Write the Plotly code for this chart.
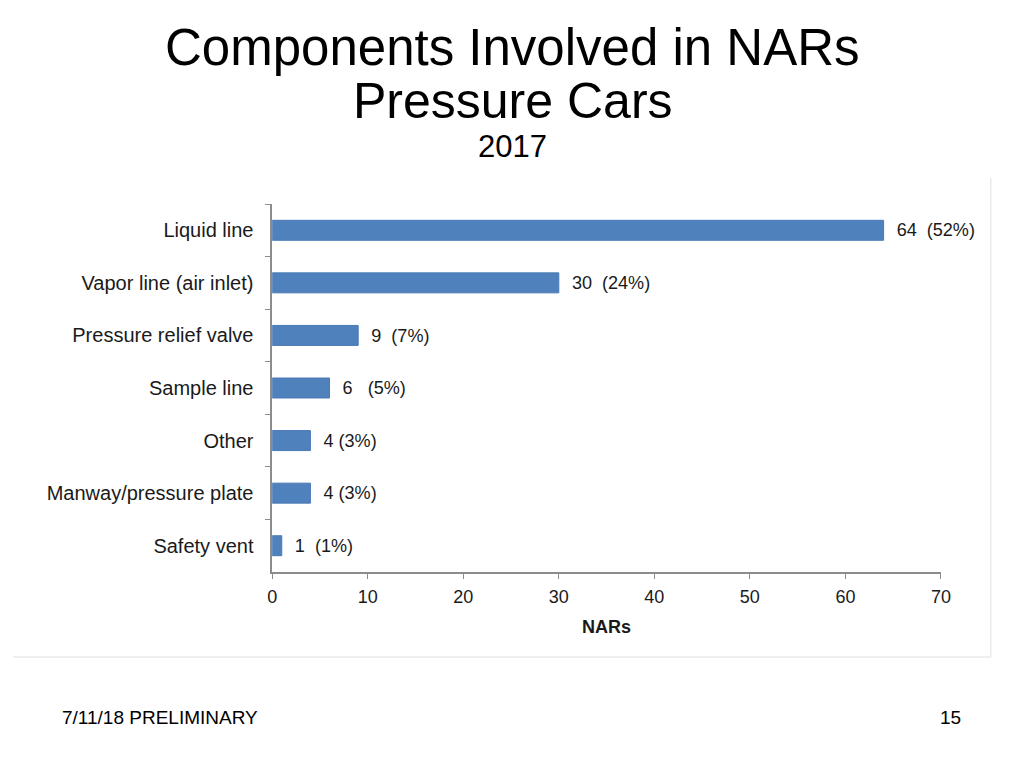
import plotly.graph_objects as go

categories = ["Liquid line", "Vapor line (air inlet)", "Pressure relief valve", "Sample line",
              "Other", "Manway/pressure plate", "Safety vent"]
values = [64, 30, 9, 6, 4, 4, 1]
percents = ["52%", "24%", "7%", "5%", "3%", "3%", "1%"]
label_gaps = [2, 2, 2, 3, 1, 1, 2]
NB = "\u00a0"
labels = [NB * 2 + f"{v}" + NB * g + f"({p})" for v, p, g in zip(values, percents, label_gaps)]
x_ticks = [0, 10, 20, 30, 40, 50, 60, 70]

# page offsets observed in the capture: x_screen = 11.3 + 0.987*x_fig, y_screen = 8 + y_fig
W, H = 1008, 752
XA, XS, YA = 11.3, 0.987, 8


def px(x):
    return ((x - XA) / XS) / W


def py(y):
    return 1 - (y - YA) / H


FONT = "Arial, Liberation Sans, sans-serif"

fig = go.Figure(go.Bar(
    y=categories, x=values, orientation="h",
    marker=dict(color="#4F81BD", line=dict(color="#4A7AB5", width=1)),
    text=labels, textposition="outside", cliponaxis=False,
    textfont=dict(family=FONT, size=19, color="#1a1a1a"),
    width=0.38,
))

fig.update_layout(
    width=W, height=H, margin=dict(l=0, r=0, t=0, b=0),
    paper_bgcolor="white", plot_bgcolor="white", showlegend=False,
    font=dict(family=FONT, color="#1a1a1a"),
    xaxis=dict(domain=[px(271), px(941)], range=[0, 70], tickvals=x_ticks,
               showgrid=False, zeroline=False, showline=True, linecolor="#8c8c8c", linewidth=1.5,
               ticks="outside", ticklen=5, tickcolor="#8c8c8c",
               tickfont=dict(size=18, color="#1a1a1a"), ticklabelstandoff=3,
               title=dict(text="<b>NARs</b>", font=dict(size=18, color="#1a1a1a"), standoff=14)),
    yaxis=dict(domain=[py(572), py(204)], autorange="reversed",
               categoryorder="array", categoryarray=categories,
               showgrid=False, showline=True, linecolor="#8c8c8c", linewidth=1.5,
               ticks="outside", ticklen=5, tickcolor="#8c8c8c", tickson="boundaries",
               tickfont=dict(size=20, color="#1a1a1a"), ticklabelstandoff=13),
)

# Slide title and footer
fig.add_annotation(text="Components Involved in NARs", x=px(512), y=py(47), xref="paper", yref="paper",
                   showarrow=False, font=dict(size=51, color="black", family=FONT),
                   xanchor="center", yanchor="middle")
fig.add_annotation(text="Pressure Cars", x=px(512), y=py(101), xref="paper", yref="paper",
                   showarrow=False, font=dict(size=50, color="black", family=FONT),
                   xanchor="center", yanchor="middle")
fig.add_annotation(text="2017", x=px(512), y=py(146), xref="paper", yref="paper",
                   showarrow=False, font=dict(size=31, color="black", family=FONT),
                   xanchor="center", yanchor="middle")
fig.add_annotation(text="7/11/18 PRELIMINARY", x=px(60), y=py(717), xref="paper", yref="paper",
                   showarrow=False, font=dict(size=19, color="black", family=FONT),
                   xanchor="left", yanchor="middle", xshift=-2)
fig.add_annotation(text="15", x=px(963), y=py(717), xref="paper", yref="paper",
                   showarrow=False, font=dict(size=19, color="black", family=FONT),
                   xanchor="right", yanchor="middle")

# faint border of the embedded chart image
fig.add_shape(type="line", xref="paper", yref="paper", x0=px(991), x1=px(991), y0=py(657), y1=py(178),
              line=dict(color="#e0e0e0", width=1))
fig.add_shape(type="line", xref="paper", yref="paper", x0=0, x1=px(991), y0=py(657), y1=py(657),
              line=dict(color="#e0e0e0", width=1))

fig.write_html("out.html")
